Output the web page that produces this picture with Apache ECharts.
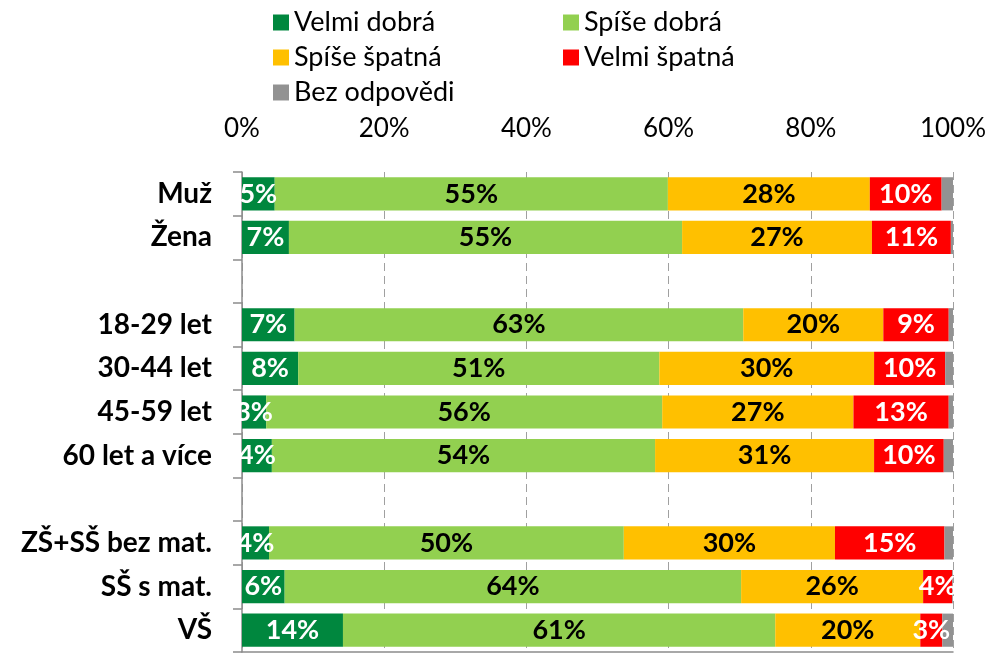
<!DOCTYPE html>
<html>
<head>
<meta charset="utf-8">
<script src="https://cdn.jsdelivr.net/npm/echarts@6/dist/echarts.min.js"></script>
<style>html,body{margin:0;padding:0;background:#fff}#c{width:997px;height:655px}</style>
</head>
<body>
<div id="c"></div>
<script>
const categories = ['Muž', 'Žena', ' ', '18-29 let', '30-44 let', '45-59 let', '60 let a více', '  ', 'ZŠ+SŠ bez mat.', 'SŠ s mat.', 'VŠ'];
const seriesNames = ['Velmi dobrá', 'Spíše dobrá', 'Spíše špatná', 'Velmi špatná', 'Bez odpovědi'];
const velmiDobra  = [4.6, 6.6, null, 7.4, 7.9, 3.4, 4.2, null, 3.8, 6.0, 14.2];
const spiseDobra  = [55.3, 55.3, null, 63.1, 50.8, 55.7, 53.9, null, 49.9, 64.2, 60.8];
const spiseSpatna = [28.4, 26.7, null, 19.7, 30.2, 26.9, 30.8, null, 29.7, 25.6, 20.4];
const velmiSpatna = [10.1, 11.1, null, 9.2, 10.0, 13.4, 9.8, null, 15.4, 4.1, 3.1];
const bezOdpovedi = [1.6, 0.3, null, 0.6, 1.1, 0.6, 1.3, null, 1.2, 0.1, 1.5];
const xTicks = [0, 20, 40, 60, 80, 100];

const FONT = 'Lato';
const colors = ['#00873E', '#92D050', '#FFC000', '#FF0000', '#929292'];
const labelColors = ['#fff', '#000', '#000', '#fff', null];
const values = [velmiDobra, spiseDobra, spiseSpatna, velmiSpatna, bezOdpovedi];

const chart = echarts.init(document.getElementById('c'));
const series = seriesNames.map((n, i) => ({
  name: n,
  type: 'bar',
  stack: 'total',
  barCategoryGap: '24%',
  data: values[i],
  itemStyle: { color: colors[i] },
  label: {
    show: labelColors[i] !== null,
    position: 'inside',
    color: labelColors[i] || '#000',
    fontFamily: FONT,
    fontWeight: 'bold',
    fontSize: 27,
    formatter: p => (p.value == null ? '' : Math.round(p.value) + '%')
  },
  emphasis: { disabled: true }
}));

const legendCommon = {
  orient: 'vertical',
  top: 9,
  padding: 0,
  itemWidth: 16,
  itemHeight: 16,
  itemGap: 8,
  itemTextGap: 8,
  icon: 'rect',
  textStyle: { fontFamily: FONT, fontSize: 27, color: '#000', lineHeight: 22 }
};

chart.setOption({
  animation: false,
  color: colors,
  legend: [
    Object.assign({}, legendCommon, { left: 273, data: [seriesNames[0], seriesNames[2], seriesNames[4]] }),
    Object.assign({}, legendCommon, { left: 563, data: [seriesNames[1], seriesNames[3]] })
  ],
  grid: { left: 242, right: 44, top: 172, bottom: 3, containLabel: false },
  xAxis: [{
    type: 'value',
    position: 'top',
    min: xTicks[0],
    max: xTicks[xTicks.length - 1],
    interval: 20,
    axisLine: { show: false },
    axisTick: { show: false },
    axisLabel: { formatter: '{value}%', fontFamily: FONT, fontSize: 26, color: '#000', margin: 30 },
    splitLine: { show: true, lineStyle: { type: [8, 5], color: '#a0a0a0', width: 1 } }
  }, {
    type: 'value',
    position: 'bottom',
    min: xTicks[0],
    max: xTicks[xTicks.length - 1],
    interval: 20,
    axisLine: { show: true, lineStyle: { color: '#8c8c8c', width: 1.5 } },
    axisTick: { show: false },
    axisLabel: { show: false },
    splitLine: { show: false }
  }],
  yAxis: {
    type: 'category',
    inverse: true,
    data: categories,
    axisLine: { show: true, lineStyle: { color: '#8c8c8c', width: 1.5 } },
    axisTick: { show: true, length: 9, lineStyle: { color: '#8c8c8c', width: 1.5 } },
    axisLabel: { fontFamily: FONT, fontWeight: 'bold', fontSize: 28, color: '#000', margin: 30 }
  },
  series: series
});
</script>
</body>
</html>
